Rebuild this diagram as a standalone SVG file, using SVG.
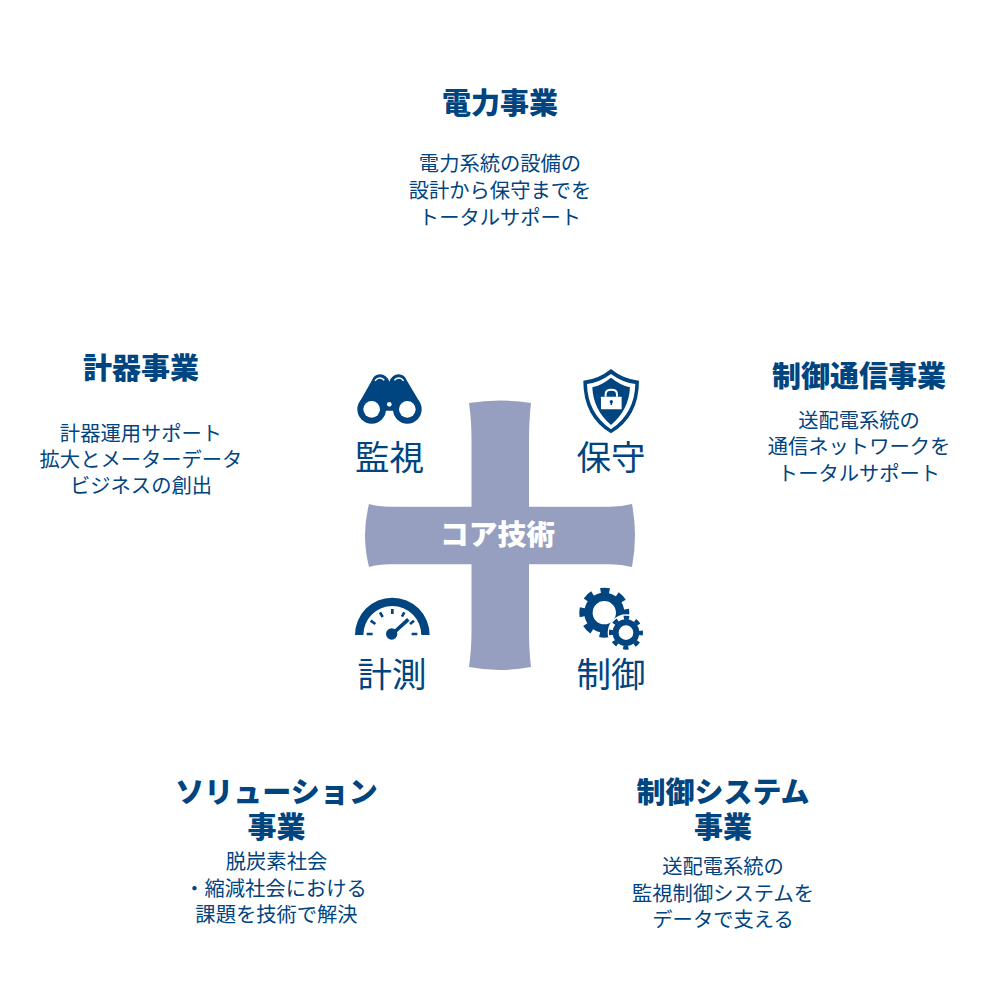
<svg xmlns="http://www.w3.org/2000/svg" width="1000" height="1000" viewBox="0 0 1000 1000">
<style>
text{font-family:"Noto Sans CJK JP","Noto Sans",sans-serif;text-anchor:middle;fill:#004480}
.t{font-size:29px;font-weight:900}
.b{font-size:20.300px;font-weight:400}
.l{font-size:34.500px;font-weight:400}
.c{font-size:28.800px;font-weight:900;fill:#fff}
.i{fill:#004480}
</style>
<rect width="1000" height="1000" fill="#fff"/>
<g id="core">
<path fill="#969fbf" d="M469 403Q500 398 531 403Q529 420 529 440V506.700H610Q622 506.700 632 504Q635 520 635 535.500Q635 551 632 567Q622 564.300 610 564.300H529V630Q529 650 531 667Q500 673 469 667Q471.500 650 471.500 630V564.300H390Q378 564.300 369 567Q365 551 365 535.500Q365 520 369 504Q378 506.700 390 506.700H471.500V440Q471.500 420 469 403Z"/>
<text class="c" x="497.500" y="545">コア技術</text>
</g>
<g id="monitor">
<g transform="translate(340 360) scale(.3333)">
<path class="i" d="M57 130L95 62Q103 43 120 43Q140 44 148 65Q156 44 176 43Q193 43 201 62L241 130L200 152H95Z"/>
<path d="M105 62Q119 47 133 61M163 61Q177 47 191 62" fill="none" stroke="#fff" stroke-width="4.500"/>
<circle class="i" cx="95" cy="148" r="43"/><circle class="i" cx="202" cy="148" r="43"/>
<circle cx="95" cy="148" r="25" fill="#fff"/><circle cx="202" cy="148" r="25" fill="#fff"/>
<circle cx="148" cy="133" r="7" fill="#fff"/>
</g>
<text class="l" x="389.500" y="469.500">監視</text>
</g>
<g id="maintain">
<g transform="translate(340 360) scale(.3333)">
<path class="i" d="M813 27Q775 58 730 62Q730 170 813 220Q897 170 897 62Q851 58 813 27Z"/>
<path fill="#fff" d="M813 42Q778 68 741 72Q743 160 813 208Q884 160 886 72Q848 68 813 42Z"/>
<path class="i" d="M813 53Q785 76 757 82Q760 150 813 195Q867 150 870 82Q842 76 813 53Z"/>
<rect x="783" y="110" width="62" height="38" rx="2" fill="#fff"/>
<path d="M797 110V102Q797 89 814 89Q831 89 831 102V110" fill="none" stroke="#fff" stroke-width="6"/>
<circle class="i" cx="814" cy="125" r="5"/><rect class="i" x="811.500" y="125" width="5" height="10"/>
</g>
<text class="l" x="611" y="469.500">保守</text>
</g>
<g id="measure">
<g transform="translate(340 530) scale(.3333)">
<path class="i" d="M45 315A112 112 0 0 1 269 315H244A87 87 0 0 0 70 315Z"/>
<g stroke="#004480" stroke-width="8" fill="none">
<path d="M80 312H98M215 312H232M92 272L106 282M120 247L128 261M157 237V252M193 247L186 260"/>
<path d="M222 272L210 282"/>
<path d="M157 312L205 268" stroke-width="11"/>
</g>
<circle class="i" cx="155" cy="312" r="17"/>
</g>
<text class="l" x="392" y="686.500">計測</text>
</g>
<g id="control">
<g transform="translate(340 530) scale(.3333)">
<circle cx="793" cy="248" r="47.500" fill="none" stroke="#004480" stroke-width="25"/>
<circle cx="793" cy="248" r="66" fill="none" stroke="#004480" stroke-width="18" stroke-dasharray="27 24.840" stroke-dashoffset="13.500"/>
<circle cx="858" cy="308" r="55" fill="#fff"/>
<circle cx="858" cy="308" r="31" fill="none" stroke="#004480" stroke-width="18"/>
<circle cx="858" cy="308" r="45" fill="none" stroke="#004480" stroke-width="12" stroke-dasharray="16 19.340" stroke-dashoffset="8"/>
</g>
<text class="l" x="611" y="686.500">制御</text>
</g>
<g id="power">
<text class="t" x="500" y="114">電力事業</text>
<text class="b" x="500" y="171">電力系統の設備の</text>
<text class="b" x="500" y="198">設計から保守までを</text>
<text class="b" x="500" y="225">トータルサポート</text>
</g>
<g id="meter">
<text class="t" x="141" y="379">計器事業</text>
<text class="b" x="141" y="440.500">計器運用サポート</text>
<text class="b" x="141" y="466.500">拡大とメーターデータ</text>
<text class="b" x="141" y="492.500">ビジネスの創出</text>
</g>
<g id="comm">
<text class="t" x="859" y="387">制御通信事業</text>
<text class="b" x="859" y="427.500">送配電系統の</text>
<text class="b" x="859" y="453.500">通信ネットワークを</text>
<text class="b" x="859" y="480.500">トータルサポート</text>
</g>
<g id="solution">
<text class="t" x="276.500" y="803">ソリューション</text>
<text class="t" x="276.500" y="838">事業</text>
<text class="b" x="276.500" y="869">脱炭素社会</text>
<text class="b" x="275.500" y="895.500">・縮減社会における</text>
<text class="b" x="276.500" y="921.500">課題を技術で解決</text>
</g>
<g id="system">
<text class="t" x="723" y="803">制御システム</text>
<text class="t" x="723" y="838">事業</text>
<text class="b" x="723" y="873.500">送配電系統の</text>
<text class="b" x="723" y="900.500">監視制御システムを</text>
<text class="b" x="723" y="926.500">データで支える</text>
</g>
<g id="connectors"/>
</svg>
